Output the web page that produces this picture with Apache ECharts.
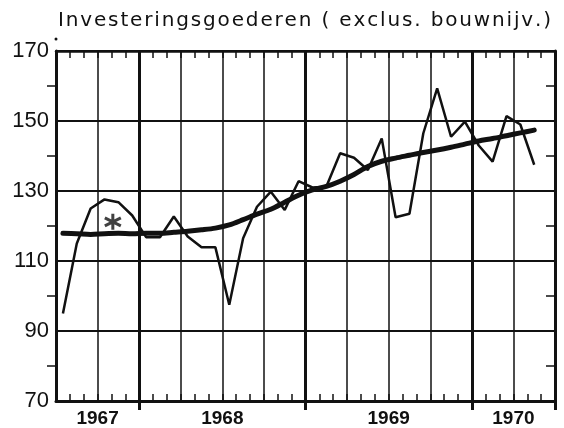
<!DOCTYPE html>
<html>
<head>
<meta charset="utf-8">
<title>Investeringsgoederen</title>
<script src="https://cdn.jsdelivr.net/npm/echarts@6/dist/echarts.min.js"></script>
<style>
  html, body { margin: 0; padding: 0; background: #fff; }
  #chart { width: 564px; height: 428px; }
</style>
</head>
<body>
<div id="chart"></div>
<script>
const TITLE = 'Investeringsgoederen ( exclus. bouwnijv.)'

// maanden juli 1967 t/m juni 1970
const START_YEAR = 1967
const START_MONTH = 7
const months = []
for (let i = 0; i < 36; i++) {
  const m = (START_MONTH - 1 + i) % 12 + 1
  const y = START_YEAR + Math.floor((START_MONTH - 1 + i) / 12)
  months.push(y + '-' + (m < 10 ? '0' + m : m))
}

// jaarlabels (positie in maanden vanaf juli 1967)
const yearLabels = { 3: '1967', 12: '1968', 24: '1969', 33: '1970' }

// indexcijfers per maand
const rawValues = [
  95, 115, 125, 127.6, 126.8, 123, 116.8, 116.8, 122.7, 117,
  113.9, 113.9, 97.5, 116.5, 125.5, 129.8, 124.6, 132.8, 131, 131.2,
  140.8, 139.5, 136, 145, 122.5, 123.5, 146.5, 159.3, 145.5, 149.8,
  143, 138.4, 151.4, 149, 137.5
]

// trendlijn
const trendValues = [
  117.9, 117.8, 117.6, 117.8, 117.9, 117.8, 117.9, 117.9, 118.2, 118.5,
  118.9, 119.4, 120.3, 121.8, 123.4, 124.8, 126.8, 128.8, 130.3, 131.3,
  132.8, 134.7, 137, 138.5, 139.4, 140.2, 141, 141.7, 142.5, 143.4,
  144.3, 145, 145.8, 146.6, 147.4
]

// sterretje
const starPoint = [[4.1, 121.2]]

const INK = '#111'
const TITLE_FONT = '20px "DejaVu Sans"'

// titel met extra letterafstand (zrender kent geen letterSpacing)
function spacedText(text, x, y, font, spacing) {
  const ctx = document.createElement('canvas').getContext('2d')
  ctx.font = font
  const parts = []
  let cx = x
  for (const ch of text) {
    if (ch !== ' ') {
      parts.push({ type: 'text', x: cx, y: y, style: { text: ch, font: font, fill: INK } })
    }
    cx += ctx.measureText(ch).width + spacing
  }
  return parts
}

const chart = echarts.init(document.getElementById('chart'))

const catAxis = {
  type: 'category',
  data: months,
  boundaryGap: true,
  axisLabel: { show: false },
  axisPointer: { show: false }
}

const option = {
  backgroundColor: '#fff',
  animation: false,
  grid: { left: 56, right: 9, top: 51, bottom: 27, containLabel: false },
  graphic: spacedText(TITLE, 58, 11, TITLE_FONT, 1.85).concat([
    {
      type: 'circle',
      shape: { cx: 56, cy: 39, r: 1.5 },
      style: { fill: INK }
    }
  ]),
  xAxis: [
    // kwartaallijnen + maandstreepjes onder
    Object.assign({}, catAxis, {
      position: 'bottom',
      axisLine: { show: true, lineStyle: { color: INK, width: 3 } },
      axisTick: { show: true, inside: true, length: 7, interval: 0, lineStyle: { color: INK, width: 1.5 } },
      splitLine: {
        show: true,
        interval: (i) => i % 3 === 0 && i % 12 !== 6,
        lineStyle: { color: INK, width: 1.5 }
      }
    }),
    // jaargrenzen
    Object.assign({}, catAxis, {
      position: 'bottom',
      axisLine: { show: false },
      axisTick: { show: true, inside: false, length: 9, interval: (i) => i % 12 === 6, lineStyle: { color: INK, width: 3 } },
      splitLine: {
        show: true,
        interval: (i) => i % 12 === 6,
        lineStyle: { color: INK, width: 3 }
      }
    }),
    // bovenrand
    Object.assign({}, catAxis, {
      position: 'top',
      axisLine: { show: true, lineStyle: { color: INK, width: 2.5 } },
      axisTick: { show: true, inside: true, length: 7, interval: 0, lineStyle: { color: INK, width: 1.5 } },
      splitLine: { show: false }
    }),
    // jaartallen
    {
      type: 'value',
      position: 'bottom',
      min: 0,
      max: 36,
      interval: 3,
      axisLine: { show: false },
      axisTick: { show: false },
      splitLine: { show: false },
      axisLabel: {
        show: true,
        margin: 8,
        color: INK,
        fontFamily: 'Liberation Sans',
        fontWeight: 'bold',
        fontSize: 19,
        showMinLabel: false,
        showMaxLabel: false,
        formatter: (v) => yearLabels[v] || ''
      }
    }
  ],
  yAxis: [
    {
      type: 'value',
      position: 'left',
      min: 70,
      max: 170,
      interval: 20,
      axisLine: { show: true, lineStyle: { color: INK, width: 3 } },
      axisTick: { show: false },
      minorTick: { show: true, splitNumber: 2, length: 9, lineStyle: { color: INK, width: 1.5 } },
      splitLine: { show: true, lineStyle: { color: INK, width: 2 } },
      axisLabel: {
        color: INK,
        fontFamily: 'Liberation Sans',
        fontSize: 22,
        margin: 7
      }
    },
    {
      type: 'value',
      position: 'right',
      min: 70,
      max: 170,
      interval: 20,
      axisLine: { show: true, lineStyle: { color: INK, width: 3 } },
      axisTick: { show: false, inside: true },
      minorTick: { show: true, splitNumber: 2, length: 9, lineStyle: { color: INK, width: 1.5 } },
      splitLine: { show: false },
      axisLabel: { show: false }
    }
  ],
  series: [
    {
      name: 'maandcijfers',
      type: 'line',
      xAxisIndex: 0,
      yAxisIndex: 0,
      data: rawValues,
      symbol: 'none',
      lineStyle: { color: INK, width: 2.5 },
      z: 3
    },
    {
      name: 'trend',
      type: 'line',
      xAxisIndex: 0,
      yAxisIndex: 0,
      data: trendValues,
      smooth: 0.3,
      symbol: 'none',
      lineStyle: { color: INK, width: 5, cap: 'round' },
      z: 4
    },
    {
      name: 'ster',
      type: 'scatter',
      xAxisIndex: 3,
      yAxisIndex: 0,
      data: starPoint,
      symbol: 'path://M0,-10L0,10M-8.7,-5L8.7,5M-8.7,5L8.7,-5',
      symbolSize: 16,
      itemStyle: { color: 'none', borderColor: INK, borderWidth: 3 },
      z: 5
    }
  ]
}

chart.setOption(option)
</script>
</body>
</html>
